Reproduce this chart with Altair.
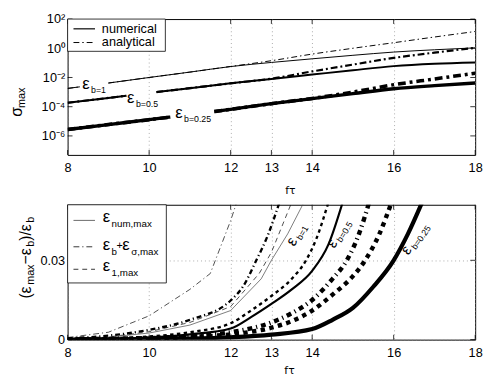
import altair as alt
import pandas as pd

FONT = "Liberation Sans"

# ---------------- axes ----------------
x_ticks = [8, 10, 12, 13, 14, 16, 18]
top_y_ticks = [1e-6, 1e-4, 1e-2, 1, 100]
bot_y_ticks = [0, 0.03]

# ---------------- top panel: sigma_max ----------------
top_e1_x = [8, 8.3, 9, 10, 11, 12, 13, 14, 15, 16, 17, 18]
top_e1_seg = [0, 0, 1, 1, 1, 1, 1, 1, 1, 1, 1, 1]
top_e1_num = [1.78e-3, 2.29e-3, 4.17e-3, 1.0e-2, 2.34e-2, 5.6e-2, 0.107, 0.19, 0.33, 0.55, 0.79, 1.07]
top_e1_ana = [1.78e-3, 2.29e-3, 4.17e-3, 1.0e-2, 2.34e-2, 5.7e-2, 0.141, 0.40, 1.0, 2.4, 5.9, 14.1]

top_e05_x = [8, 9, 9.44, 10.18, 11, 12, 13, 14, 15, 16, 17, 18]
top_e05_seg = [0, 0, 0, 1, 1, 1, 1, 1, 1, 1, 1, 1]
top_e05_num = [1.86e-4, 3.98e-4, 5.6e-4, 1.0e-3, 1.86e-3, 3.98e-3, 7.9e-3, 1.58e-2, 3.16e-2, 6.0e-2, 8.7e-2, 0.107]
top_e05_ana = [1.86e-4, 3.98e-4, 5.6e-4, 1.0e-3, 1.86e-3, 3.98e-3, 8.3e-3, 2.6e-2, 7.6e-2, 0.22, 0.5, 1.07]

top_e025_x = [8, 9, 10, 10.52, 11.6, 12, 13, 14, 15, 16, 17, 18]
top_e025_seg = [0, 0, 0, 0, 1, 1, 1, 1, 1, 1, 1, 1]
top_e025_num = [2.75e-6, 6.0e-6, 1.29e-5, 1.95e-5, 4.7e-5, 6.6e-5, 1.62e-4, 3.55e-4, 7.8e-4, 1.7e-3, 2.8e-3, 4.2e-3]
top_e025_ana = [2.75e-6, 6.0e-6, 1.29e-5, 1.95e-5, 4.7e-5, 6.6e-5, 1.62e-4, 3.7e-4, 1.0e-3, 3.2e-3, 7.9e-3, 1.95e-2]

top_lab_x = [8.36, 9.46, 10.64]
top_lab_y = [1.95e-3, 2.2e-4, 1.95e-5]
top_lab_sub = ["b=1", "b=0.5", "b=0.25"]

# ---------------- bottom panel: (eps_max - eps_b)/eps_b ----------------
# eps_b = 1
b1_num_x = [8, 9, 10, 11, 12, 12.75, 13, 13.4, 13.8]
b1_num_y = [0.0003, 0.0009, 0.0025, 0.0055, 0.011, 0.023, 0.030, 0.040, 0.052]
b1_one_x = [8, 9, 10, 11, 12, 12.7, 13, 13.5]
b1_one_y = [0.0004, 0.001, 0.003, 0.0065, 0.0125, 0.025, 0.033, 0.052]
b1_ana_x = [8, 9, 10, 11, 11.5, 12, 12.15]
b1_ana_y = [0.0008, 0.0028, 0.009, 0.019, 0.025, 0.045, 0.052]
# eps_b = 0.5
b05_num_x = [8, 9, 10, 11, 12, 12.5, 13, 13.5, 14, 14.4, 14.75]
b05_num_y = [0.0001, 0.0003, 0.0008, 0.002, 0.0042, 0.0085, 0.0135, 0.019, 0.026, 0.036, 0.052]
b05_one_x = [8, 9, 10, 11, 12, 12.5, 13, 13.5, 13.85, 14.1, 14.4]
b05_one_y = [0.0002, 0.0005, 0.0012, 0.0028, 0.0062, 0.011, 0.0165, 0.023, 0.03, 0.038, 0.052]
b05_ana_x = [8, 9, 10, 11, 12, 12.3, 12.63, 12.9, 13.2]
b05_ana_y = [0.0005, 0.0015, 0.0037, 0.0075, 0.0148, 0.02, 0.03, 0.039, 0.052]
# eps_b = 0.25
b025_num_x = [8, 9, 10, 11, 12, 13, 14, 14.5, 15, 15.5, 16, 16.35, 16.7]
b025_num_y = [0.00005, 0.0001, 0.0002, 0.0004, 0.0009, 0.0019, 0.004, 0.0075, 0.012, 0.02, 0.03, 0.04, 0.052]
b025_one_x = [8, 9, 10, 11, 12, 13, 13.5, 14, 14.5, 15, 15.3, 15.65, 15.95]
b025_one_y = [0.0001, 0.0002, 0.0004, 0.001, 0.002, 0.0045, 0.007, 0.011, 0.017, 0.024, 0.03, 0.04, 0.052]
b025_ana_x = [8, 9, 10, 11, 12, 13, 13.5, 14, 14.5, 14.85, 15.15, 15.4]
b025_ana_y = [0.0001, 0.0003, 0.0006, 0.0013, 0.0028, 0.0065, 0.01, 0.015, 0.023, 0.03, 0.04, 0.052]

bot_lab_x = [13.52, 14.5, 16.32]
bot_lab_y = [0.0354, 0.0347, 0.0321]
bot_lab_angle = [300, 302, 305]
bot_lab_sub = ["b=1", "b=0.5", "b=0.25"]

# ---------------- layout ----------------
W, H1, H2 = 417, 139, 138
GAP = 51

xscale = alt.Scale(domain=[8, 18], nice=False, zero=False)
xaxis = alt.Axis(values=x_ticks, grid=True, title=None, labelPadding=7, labelFlush=False)
X = alt.X("x:Q", scale=xscale, axis=xaxis)

ytop_scale = alt.Scale(type="log", domain=[5e-8, 100], nice=False)
ytop_axis = alt.Axis(values=top_y_ticks, grid=False, title=None, labelPadding=3, labelFlush=False,
                     labelExpr="datum.value >= 10 ? '10²' : datum.value >= 0.5 ? '10⁰' : "
                               "datum.value >= 0.005 ? '10⁻²' : datum.value >= 0.00005 ? '10⁻⁴' : '10⁻⁶'")
YT = alt.Y("y:Q", scale=ytop_scale, axis=ytop_axis)

ybot_scale = alt.Scale(domain=[0, 0.051], nice=False)
ybot_axis = alt.Axis(values=bot_y_ticks, grid=True, title=None, labelPadding=3, labelFlush=False,
                     labelExpr="datum.value == 0 ? '0' : '0.03'")
YB = alt.Y("y:Q", scale=ybot_scale, axis=ybot_axis)

one = pd.DataFrame({"a": [0]})


def line(xs, ys, Y, width, dash=None, color="black", segs=None, smooth=False):
    df = pd.DataFrame({"x": xs, "y": ys, "seg": segs if segs is not None else [0] * len(xs)})
    kw = dict(strokeWidth=width, color=color, clip=True)
    if dash:
        kw["strokeDash"] = dash
    if smooth:
        kw["interpolate"] = "monotone"
    return alt.Chart(df).mark_line(**kw).encode(x=X, y=Y, detail="seg:N", order="x:Q")


def txt(text, x, y, size, angle=None, dx=0, dy=0, align="left", baseline="middle", font=FONT):
    kw = dict(text=text, fontSize=size, align=align, baseline=baseline, dx=dx, dy=dy,
              color="black", font=font)
    if angle is not None:
        kw["angle"] = angle
    return alt.Chart(one).mark_text(**kw).encode(x=alt.value(x), y=alt.value(y))


def ticks(Y, yvals, H):
    dx = pd.DataFrame({"x": x_ticks})
    dy = pd.DataFrame({"y": yvals})
    L = 5
    return [
        alt.Chart(dy).mark_rule(color="black", strokeWidth=0.8).encode(y=Y, x=alt.value(0), x2=alt.value(L)),
        alt.Chart(dy).mark_rule(color="black", strokeWidth=0.8).encode(y=Y, x=alt.value(W - L), x2=alt.value(W)),
        alt.Chart(dx).mark_rule(color="black", strokeWidth=0.8).encode(x=X, y=alt.value(0), y2=alt.value(L)),
        alt.Chart(dx).mark_rule(color="black", strokeWidth=0.8).encode(x=X, y=alt.value(H - L), y2=alt.value(H)),
    ]


# ---------------- top panel ----------------
bounds_rect = alt.Chart(one).mark_rect(fill="white", fillOpacity=0, strokeOpacity=0).encode(
    x=alt.value(-54), x2=alt.value(W + 4), y=alt.value(-6), y2=alt.value(H1 + GAP + H2 + 25))

DD_THIN = [6, 3, 1.5, 3]
DD_MED = [7, 3, 2, 3]
DD_THICK = [8, 4, 3, 4]

top_layers = [bounds_rect]
top_layers += ticks(YT, top_y_ticks, H1)
top_layers += [
    line(top_e1_x, top_e1_ana, YT, 1.0, DD_THIN, segs=top_e1_seg, smooth=True),
    line(top_e1_x, top_e1_num, YT, 1.0, segs=top_e1_seg, smooth=True),
    line(top_e05_x, top_e05_ana, YT, 2.2, DD_MED, segs=top_e05_seg, smooth=True),
    line(top_e05_x, top_e05_num, YT, 2.0, segs=top_e05_seg, smooth=True),
    line(top_e025_x, top_e025_ana, YT, 3.6, DD_THICK, segs=top_e025_seg, smooth=True),
    line(top_e025_x, top_e025_num, YT, 3.4, segs=top_e025_seg, smooth=True),
]
top_lab = pd.DataFrame({"x": top_lab_x, "y": top_lab_y, "s": top_lab_sub})
top_layers += [
    alt.Chart(top_lab).mark_text(text="ε", fontSize=17, align="left", baseline="middle", font=FONT,
                                 dy=-4, color="black").encode(x=X, y=YT),
    alt.Chart(top_lab).mark_text(fontSize=9, align="left", baseline="middle", dx=9, dy=2, font=FONT,
                                 color="black").encode(x=X, y=YT, text="s:N"),
]
# legend
top_layers += [
    alt.Chart(one).mark_rect(fill="white", stroke="black", strokeWidth=0.8).encode(
        x=alt.value(0), x2=alt.value(100), y=alt.value(0), y2=alt.value(33)),
    alt.Chart(one).mark_rule(color="black", strokeWidth=1.2).encode(
        x=alt.value(6), x2=alt.value(28), y=alt.value(10)),
    alt.Chart(one).mark_rule(color="black", strokeWidth=1.0, strokeDash=DD_THIN).encode(
        x=alt.value(6), x2=alt.value(28), y=alt.value(24)),
    txt("numerical", 35, 10, 13),
    txt("analytical", 35, 24, 13),
    txt("fτ", 228, H1 + 37, 11, align="center", font="DejaVu Sans"),
    txt("σ", -47, 100, 16, angle=270, baseline="alphabetic"),
    txt("max", -47, 100, 11, angle=270, dx=9, dy=3, baseline="alphabetic"),
]
top = alt.layer(*top_layers).properties(width=W, height=H1)

# ---------------- bottom panel ----------------
bot_layers = []
bot_layers += ticks(YB, bot_y_ticks, H2)
bot_layers += [
    line(b1_ana_x, b1_ana_y, YB, 0.7, [6, 3, 1.2, 3]),
    line(b1_one_x, b1_one_y, YB, 0.7, [5, 4]),
    line(b1_num_x, b1_num_y, YB, 0.7, color="#444444"),
    line(b05_ana_x, b05_ana_y, YB, 2.4, [5, 3, 1.2, 3], smooth=True),
    line(b05_one_x, b05_one_y, YB, 2.4, [3.5, 3.5], smooth=True),
    line(b05_num_x, b05_num_y, YB, 2.2, smooth=True),
    line(b025_ana_x, b025_ana_y, YB, 4.5, [5, 4, 1.2, 4], smooth=True),
    line(b025_one_x, b025_one_y, YB, 4.5, [4.5, 4.5], smooth=True),
    line(b025_num_x, b025_num_y, YB, 4.3, smooth=True),
]
for i in range(3):
    lab = pd.DataFrame({"x": [bot_lab_x[i]], "y": [bot_lab_y[i]], "s": [bot_lab_sub[i]]})
    bot_layers += [
        alt.Chart(lab).mark_text(text="ε", fontSize=16, align="left", baseline="middle", font=FONT,
                                 dy=-3, color="black", angle=bot_lab_angle[i]).encode(x=X, y=YB),
        alt.Chart(lab).mark_text(fontSize=9, align="left", baseline="middle", dx=9, dy=2, font=FONT,
                                 color="black", angle=bot_lab_angle[i]).encode(x=X, y=YB, text="s:N"),
    ]
# legend
bot_layers += [
    alt.Chart(one).mark_rect(fill="white", stroke="black", strokeWidth=0.8).encode(
        x=alt.value(0), x2=alt.value(101), y=alt.value(0), y2=alt.value(80)),
    alt.Chart(one).mark_rule(color="#444444", strokeWidth=0.8).encode(
        x=alt.value(6), x2=alt.value(28), y=alt.value(16)),
    alt.Chart(one).mark_rule(color="black", strokeWidth=0.8, strokeDash=[6, 3, 1.2, 3]).encode(
        x=alt.value(6), x2=alt.value(28), y=alt.value(43)),
    alt.Chart(one).mark_rule(color="black", strokeWidth=0.8, strokeDash=[5, 4]).encode(
        x=alt.value(6), x2=alt.value(28), y=alt.value(66)),
    txt("ε", 36, 13, 17),
    txt("num,max", 45, 20, 10),
    txt("ε", 36, 41, 17),
    txt("b", 45, 48, 10),
    txt("+", 50, 42, 11),
    txt("ε", 56, 41, 17),
    txt("σ,max", 65, 48, 10),
    txt("ε", 36, 63, 17),
    txt("1,max", 45, 70, 10),
    txt("fτ", 227, H2 + 32, 11, align="center", font="DejaVu Sans"),
]
# y title (rotated pieces)
YT0 = 96
for piece, off, size, sub in [("(", 0, 16, False), ("ε", 5.3, 16, False), ("max", 14.1, 11, True),
                              ("−", 35, 16, False), ("ε", 44.3, 16, False), ("b", 53.1, 11, True),
                              (")", 59.2, 16, False), ("/", 64.5, 16, False), ("ε", 68.9, 16, False),
                              ("b", 77.7, 11, True)]:
    bot_layers.append(txt(piece, -37, YT0, size, angle=270, dx=off, dy=3 if sub else 0,
                          baseline="alphabetic"))
bottom = alt.layer(*bot_layers).properties(width=W, height=H2)

chart = alt.vconcat(top, bottom, spacing=GAP, bounds="flush").properties(padding=0).configure(
    font=FONT
).configure_view(stroke="black", strokeWidth=1).configure_axis(
    domain=False, ticks=False, labelFont=FONT, labelFontSize=13, labelColor="black",
    gridDash=[1, 3], gridColor="#888888", gridWidth=0.7, gridOpacity=1
)

chart.save("out.html", embed_options={"renderer": "svg", "actions": False})
